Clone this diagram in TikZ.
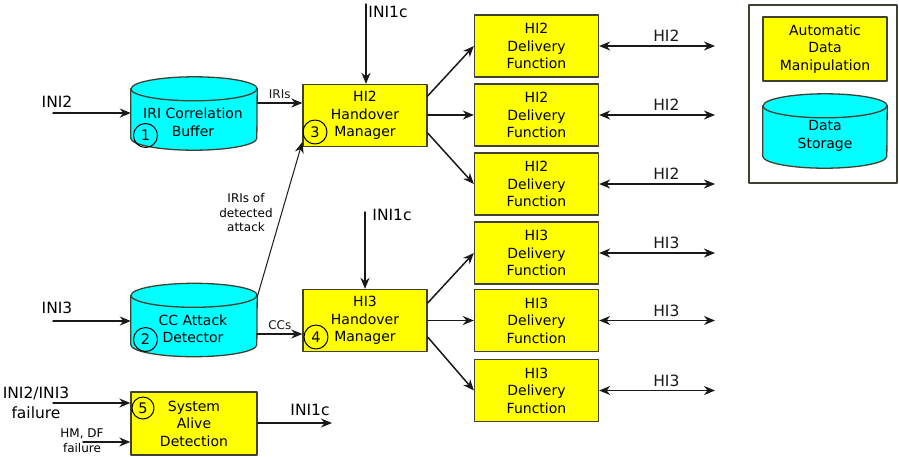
\documentclass[tikz,border=0pt]{standalone}
\usepackage{fontspec}
\setmainfont{DejaVu Sans}
\usetikzlibrary{arrows.meta}
\usetikzlibrary{positioning}
\definecolor{funcyellow}{rgb}{1,1,0}
\definecolor{storecyan}{rgb}{0,1,1}
\definecolor{rahmen}{rgb}{0.25,0.25,0.2}

% Zylinder um einen (unsichtbaren) Knoten: #1 Name, #2 halbe Breite
\newcommand{\zylinder}[2]{%
  \path[draw=rahmen,fill=storecyan,line width=1.3pt]
    ([yshift=-12pt]#1.north west) -- ([yshift=12pt]#1.south west)
    arc[start angle=180,end angle=360,x radius=#2,y radius=12pt]
    -- ([yshift=-12pt]#1.north east)
    arc[start angle=0,end angle=180,x radius=#2,y radius=12pt] -- cycle;
  \draw[rahmen,line width=1.3pt] ([yshift=-12pt]#1.north west)
    arc[start angle=180,end angle=360,x radius=#2,y radius=12pt];
}

\begin{document}
\begin{tikzpicture}[line cap=round,line join=round,x=1pt,y=-1pt,
  >={Stealth[length=11pt,width=9pt,inset=3.5pt]},
  func/.style={draw=rahmen,fill=funcyellow,line width=1.3pt,minimum width=124pt,minimum height=62pt,inner sep=0pt,align=center,font=\fontsize{14}{17.5}\selectfont},
  store/.style={minimum width=126pt,minimum height=73pt,inner sep=0pt},
  boxtext/.style={align=center,font=\fontsize{14}{17.5}\selectfont},
  nummer/.style={circle,draw=black,line width=1pt,minimum size=24pt,inner sep=0pt,font=\fontsize{14.5}{14.5}\selectfont},
  flow/.style={->,line width=1.5pt,color=black!90},
  gross/.style={align=center,font=\fontsize{15.5}{19.5}\selectfont},
  klein/.style={align=center,font=\fontsize{12}{14.5}\selectfont}]
\useasboundingbox (0,0) rectangle (899,456);

% Legende
\draw[rahmen,line width=1.5pt] (749,5) rectangle (897,183);
\node[func,minimum height=64pt] (adm) at (825,49) {Automatic\\Data\\Manipulation};
\node[store,minimum width=124pt,minimum height=74pt] (ds) at (825,131) {};
\zylinder{ds}{62pt}
\node[boxtext] (ds-t) at (825,136) {Data\\Storage};

% Speicher
\node[store] (irib) at (194,113.5) {};
\zylinder{irib}{63pt}
\node[boxtext] (irib-t) at (193,122.5) {IRI Correlation\\Buffer};
\node[nummer] (n1) at (145.5,135.5) {1};
\node[store] (cdet) at (194,320) {};
\zylinder{cdet}{63pt}
\node[boxtext] (cdet-t) at (193,329) {CC Attack\\Detector};
\node[nummer] (n2) at (145.5,339.5) {2};

% Handover Manager
\node[func] (hm2) at (365,115.5) {HI2\\Handover\\Manager};
\node[nummer] (n3) at (315,132) {3};
\node[func] (hm3) at (365,320.5) {HI3\\Handover\\Manager};
\node[nummer] (n4) at (316,337) {4};

% System Alive Detection
\node[func,minimum width=126pt,minimum height=63pt] (sad) at (194,423.5) {System\\Alive\\Detection};
\node[nummer,minimum size=22pt] (n5) at (143,408) {5};

% Delivery Functions mit Ausgaengen
\foreach \i/\y in {1/46,2/115,3/184}{
  \node[func] (df2\i) at (536.5,\y) {HI2\\Delivery\\Function};
  \coordinate (aus2\i) at (715,\y);
  \draw[flow,<->] (df2\i) -- (aus2\i) node[gross,pos=0.58,above=0pt] {HI2};
}
\foreach \i/\y in {1/253,2/320.5,3/390.5}{
  \node[func] (df3\i) at (536.5,\y) {HI3\\Delivery\\Function};
  \coordinate (aus3\i) at (715,\y);
  \draw[flow,<->] (df3\i) -- (aus3\i) node[gross,pos=0.58,above=0pt] {HI3};
}

% Eingaenge
\coordinate (ini2) at (53,113);
\node[gross] (ini2-t) at (57,102) {INI2};
\draw[flow] (ini2) -- (ini2 -| irib.west);
\coordinate (ini3) at (53,321);
\node[gross] (ini3-t) at (57,308) {INI3};
\draw[flow] (ini3) -- (ini3 -| cdet.west);
\coordinate (ini1a) at (366,4);
\node[gross] (ini1a-t) at (388,12) {INI1c};
\draw[flow] (ini1a) -- (ini1a |- hm2.north);
\coordinate (ini1b) at (365,212);
\node[gross] (ini1b-t) at (392,215) {INI1c};
\draw[flow] (ini1b) -- (ini1b |- hm3.north);

% Speicher -> Handover Manager
\draw[flow] (irib.east |- 0,103) -- (hm2.west |- 0,103) node[klein,midway,above=0pt] {IRIs};
\draw[flow] (cdet.east |- 0,334) -- (hm3.west |- 0,334) node[klein,midway,above=0pt] {CCs};
\draw[flow,line width=1pt] (cdet.east |- 0,297) -- (hm2.west |- 0,142);
\node[klein] (att-t) at (246,213) {IRIs of\\detected\\attack};

% Handover Manager -> Delivery Functions
\draw[flow] (hm2.east |- 0,96) -- (df21.west);
\draw[flow] (hm2.east |- df22.west) -- (df22.west);
\draw[flow] (hm2.east |- 0,133) -- (df23.west);
\draw[flow] (hm3.east |- 0,303) -- (df31.west);
\draw[flow] (hm3.east |- df32.west) -- (df32.west);
\draw[flow] (hm3.east |- 0,337) -- (df33.west);

% Ausfallmeldungen
\coordinate (fail1) at (53,403);
\node[gross] (fail1-t) at (36,403) {INI2/INI3\\failure};
\draw[flow] (fail1) -- (fail1 -| sad.west);
\coordinate (fail2) at (83,442);
\node[klein] (fail2-t) at (82,440.5) {HM, DF\\failure};
\draw[flow] (fail2) -- (fail2 -| sad.west);
\coordinate (aus5) at (332,423);
\node[gross] (aus5-t) at (310,410) {INI1c};
\draw[flow] (sad.east |- aus5) -- (aus5);
\end{tikzpicture}
\end{document}
